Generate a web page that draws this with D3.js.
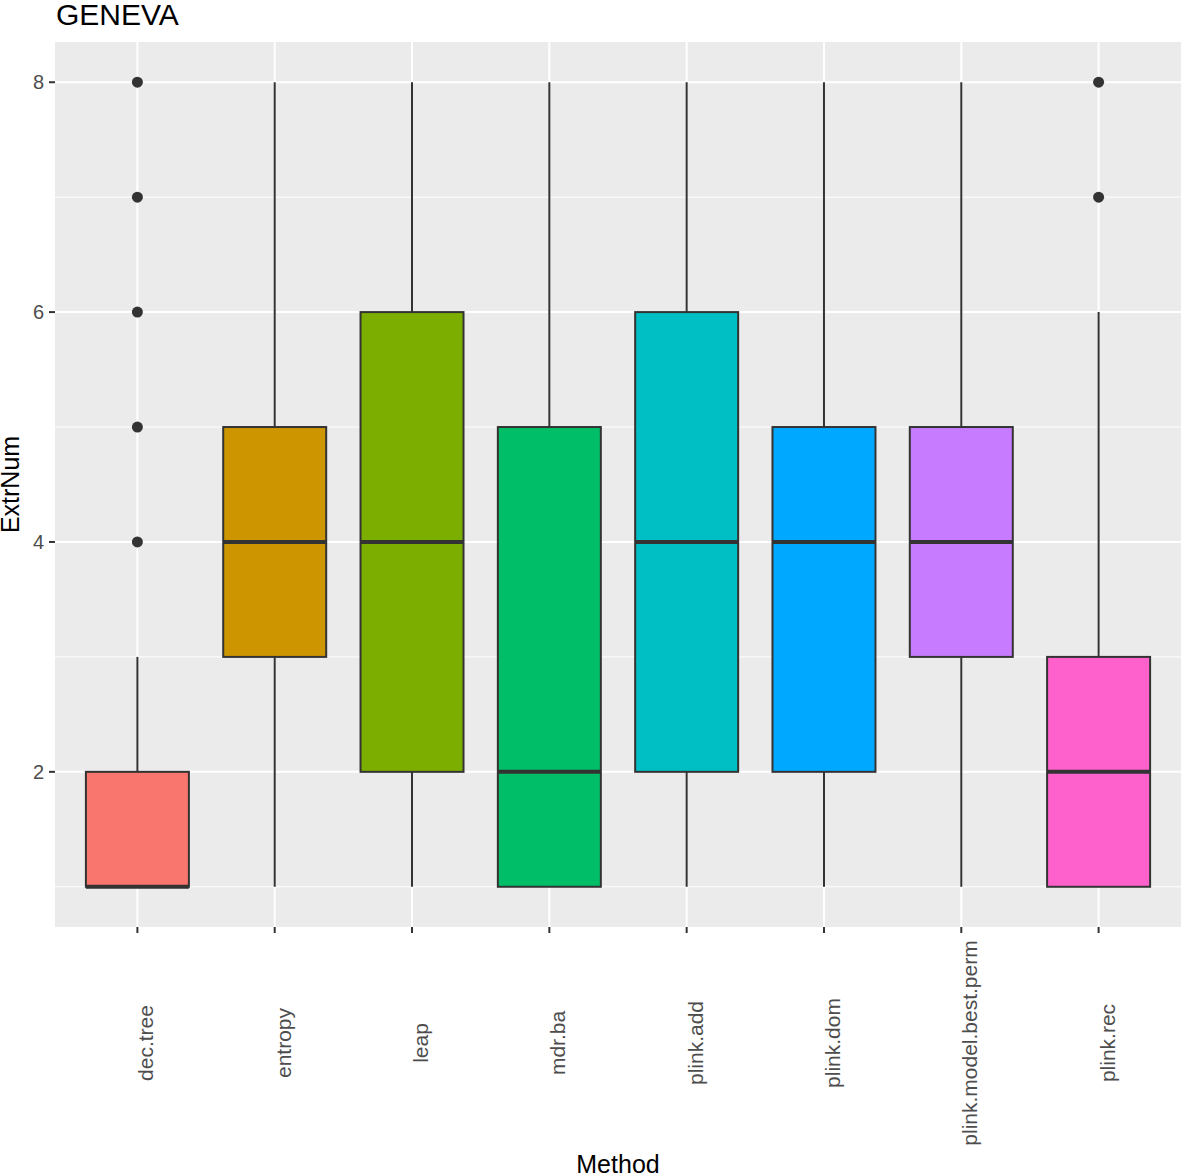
<!DOCTYPE html>
<html>
<head>
<meta charset="utf-8">
<script src="https://cdn.jsdelivr.net/npm/d3@7"></script>
<style>
  body { margin: 0; background: #fff; }
  text { font-family: "Liberation Sans", Arial, sans-serif; }
</style>
</head>
<body>
<svg id="chart" width="1181" height="1176"></svg>
<script>
// box summaries
const methods = ["dec.tree", "entropy", "leap", "mdr.ba", "plink.add", "plink.dom", "plink.model.best.perm", "plink.rec"];
const whiskLow = [1, 1, 1, 1, 1, 1, 1, 1];
const q1 = [1, 3, 2, 1, 2, 2, 3, 1];
const median = [1, 4, 4, 2, 4, 4, 4, 2];
const q3 = [2, 5, 6, 5, 6, 5, 5, 3];
const whiskHigh = [3, 8, 8, 8, 8, 8, 8, 6];
const outliers = [[4, 5, 6, 7, 8], [], [], [], [], [], [], [7, 8]];
const colors = ["#F8766D", "#CD9600", "#7CAE00", "#00BE67", "#00BFC4", "#00A9FF", "#C77CFF", "#FF61CC"];
const yTicks = [2, 4, 6, 8];
const yMinor = [1, 3, 5, 7];

const margin = {top: 42, right: 0, bottom: 249, left: 55},
      width = 1181 - margin.left - margin.right,
      height = 1176 - margin.top - margin.bottom;

const svg = d3.select("#chart");
const g = svg.append("g").attr("transform", `translate(${margin.left},${margin.top})`);

// ggplot discrete expansion: 0.6 units each side
const step = width / (methods.length + 0.2);
const x = d3.scalePoint().domain(methods).range([step * 0.6, width - step * 0.6]);
const y = d3.scaleLinear().domain([0.65, 8.35]).range([height, 0]);

g.append("rect").attr("width", width).attr("height", height).attr("fill", "#EBEBEB");

// grid
g.selectAll(".minor").data(yMinor).enter().append("line")
    .attr("x1", 0).attr("x2", width)
    .attr("y1", d => y(d)).attr("y2", d => y(d))
    .attr("stroke", "#fff").attr("stroke-width", 1);
g.selectAll(".major").data(yTicks).enter().append("line")
    .attr("x1", 0).attr("x2", width)
    .attr("y1", d => y(d)).attr("y2", d => y(d))
    .attr("stroke", "#fff").attr("stroke-width", 2);
g.selectAll(".vgrid").data(methods).enter().append("line")
    .attr("x1", d => x(d)).attr("x2", d => x(d))
    .attr("y1", 0).attr("y2", height)
    .attr("stroke", "#fff").attr("stroke-width", 2);

// boxes
const boxW = step * 0.75;
const boxes = g.selectAll(".box").data(methods).enter().append("g")
    .attr("transform", d => `translate(${x(d)},0)`);

boxes.append("line")
    .attr("y1", (d, i) => y(whiskLow[i])).attr("y2", (d, i) => y(q1[i]))
    .attr("stroke", "#333").attr("stroke-width", 2);
boxes.append("line")
    .attr("y1", (d, i) => y(q3[i])).attr("y2", (d, i) => y(whiskHigh[i]))
    .attr("stroke", "#333").attr("stroke-width", 2);
boxes.append("rect")
    .attr("x", -boxW / 2).attr("width", boxW)
    .attr("y", (d, i) => y(q3[i]))
    .attr("height", (d, i) => y(q1[i]) - y(q3[i]))
    .attr("fill", (d, i) => colors[i])
    .attr("stroke", "#333").attr("stroke-width", 2);
boxes.append("line")
    .attr("x1", -boxW / 2).attr("x2", boxW / 2)
    .attr("y1", (d, i) => y(median[i])).attr("y2", (d, i) => y(median[i]))
    .attr("stroke", "#333").attr("stroke-width", 4);
boxes.each(function(d, i) {
    d3.select(this).selectAll("circle").data(outliers[i]).enter().append("circle")
        .attr("cx", 0).attr("cy", v => y(v)).attr("r", 5.5).attr("fill", "#333");
});

// y axis
const yAxis = g.selectAll(".ytick").data(yTicks).enter().append("g")
    .attr("transform", d => `translate(0,${y(d)})`);
yAxis.append("line").attr("x1", -6).attr("x2", 0).attr("stroke", "#333").attr("stroke-width", 2);
yAxis.append("text").attr("x", -11).attr("dy", "0.35em")
    .attr("text-anchor", "end").attr("font-size", 20).attr("fill", "#4D4D4D")
    .text(d => d);

// x axis
const xAxis = g.selectAll(".xtick").data(methods).enter().append("g")
    .attr("transform", d => `translate(${x(d)},${height})`);
xAxis.append("line").attr("y1", 0).attr("y2", 6).attr("stroke", "#333").attr("stroke-width", 2);
xAxis.append("text")
    .attr("transform", "translate(16,116) rotate(-90)")
    .attr("text-anchor", "middle").attr("font-size", 21).attr("fill", "#4D4D4D")
    .text(d => d);

// titles
svg.append("text").attr("x", 56).attr("y", 25)
    .attr("font-size", 30).attr("fill", "#000").text("GENEVA");
svg.append("text").attr("x", margin.left + width / 2).attr("y", 1173)
    .attr("text-anchor", "middle").attr("font-size", 25).attr("fill", "#000").text("Method");
svg.append("text").attr("transform", `translate(19,${margin.top + height / 2}) rotate(-90)`)
    .attr("text-anchor", "middle").attr("font-size", 25).attr("fill", "#000").text("ExtrNum");
</script>
</body>
</html>
